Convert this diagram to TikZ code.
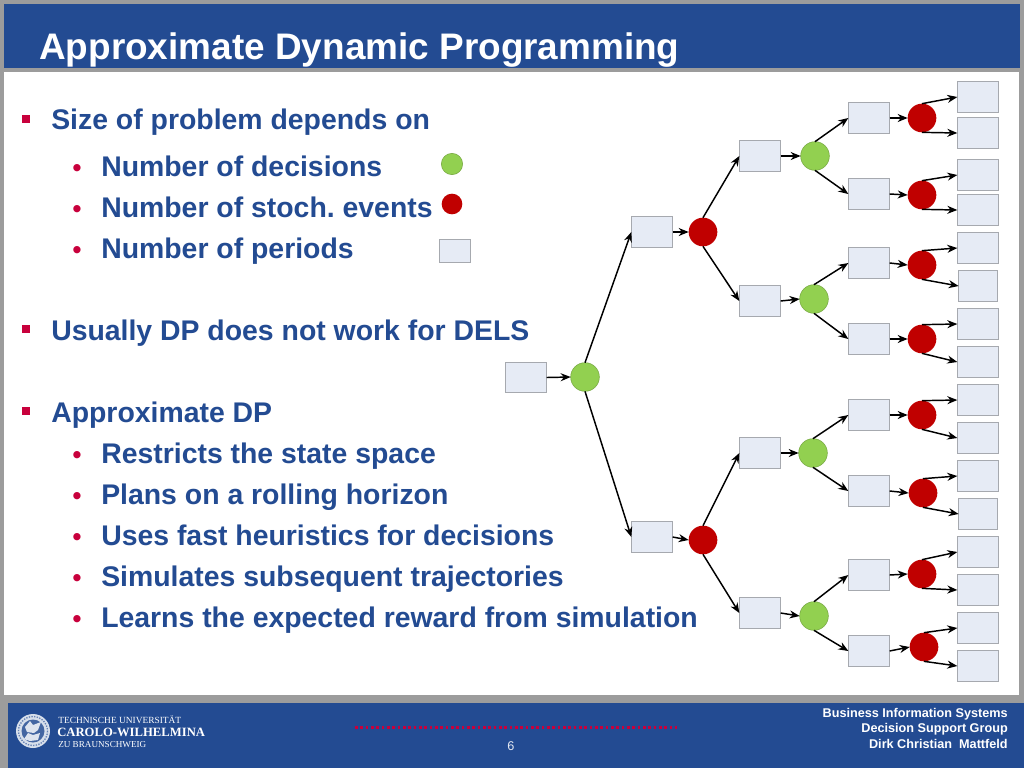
\documentclass[tikz,border=0pt]{standalone}
\usepackage{fontspec}
\setmainfont{Liberation Sans}
\newfontfamily\logofont{Liberation Serif}
\usetikzlibrary{arrows.meta}
\definecolor{uniblue}{HTML}{234B92}
\definecolor{framegray}{HTML}{9C9C9C}
\definecolor{boxfill}{HTML}{E6EBF5}
\definecolor{boxline}{HTML}{A6A9AF}
\definecolor{decgreen}{HTML}{92D050}
\definecolor{evred}{HTML}{C00000}
\definecolor{bulletred}{HTML}{C8003C}
\tikzset{
  statebox/.style={draw=boxline,fill=boxfill,line width=.8pt,minimum width=31pt,minimum height=23pt,inner sep=0pt,outer sep=0pt},
  decision/.style={circle,draw=decgreen!80!black,line width=.4pt,fill=decgreen,minimum size=21.5pt,inner sep=0pt,outer sep=0pt},
  chance/.style={circle,fill=evred,minimum size=21.5pt,inner sep=0pt,outer sep=0pt},
  link/.style={draw=black,line width=1.1pt,-{Stealth[length=7.5pt,width=6pt]}},
  h1/.style={anchor=base west,text=uniblue,font=\bfseries\fontsize{21.3}{25}\selectfont,inner sep=0pt},
  bul/.style={anchor=center,fill=bulletred,minimum size=6pt,inner sep=0pt},
  dot/.style={anchor=base,text=bulletred,font=\bfseries\fontsize{19}{24}\selectfont,inner sep=0pt},
  foot/.style={anchor=base east,text=white,font=\bfseries\fontsize{9.5}{11}\selectfont,inner sep=0pt}
}
\begin{document}
\begin{tikzpicture}[x=.75pt,y=-.75pt]
\useasboundingbox (0,0) rectangle (1024,768);
\fill[framegray] (0,0) rectangle (1024,768);
\fill[uniblue] (4,4) rectangle (1020,68);
\fill[white] (4,72) rectangle (1019,695);
\fill[uniblue] (8,703) rectangle (1024,768);
\node[anchor=base west,text=white,font=\bfseries\fontsize{27.7}{32}\selectfont,inner sep=0pt] (title) at (39,59) {Approximate Dynamic Programming};
% text
\node[bul] (b1) at (26,118.5) {};
\node[h1] (t1) at (51,129.5) {Size of problem depends on};
\node[dot] (d1) at (77,176) {•};
\node[h1] (t2) at (101,176.5) {Number of decisions};
\node[dot] (d2) at (77,217) {•};
\node[h1] (t3) at (101,217.5) {Number of stoch.\ events};
\node[dot] (d3) at (77,258) {•};
\node[h1] (t4) at (101,258.5) {Number of periods};
\node[bul] (b2) at (26,329) {};
\node[h1] (t5) at (51,340.5) {Usually DP does not work for DELS};
\node[bul] (b3) at (26,411) {};
\node[h1] (t6) at (51,422.5) {Approximate DP};
\node[dot] (d4) at (77,463) {•};
\node[h1] (t7) at (101,463.5) {Restricts the state space};
\node[dot] (d5) at (77,504) {•};
\node[h1] (t8) at (101,504.5) {Plans on a rolling horizon};
\node[dot] (d6) at (77,545) {•};
\node[h1] (t9) at (101,545.5) {Uses fast heuristics for decisions};
\node[dot] (d7) at (77,586) {•};
\node[h1] (t10) at (101,586.5) {Simulates subsequent trajectories};
\node[dot] (d8) at (77,627) {•};
\node[h1] (t11) at (101,627.5) {Learns the expected reward from simulation};
% legend
\node[decision,minimum size=16pt] (lg) at (452,164) {};
\node[chance,minimum size=15.5pt] (lr) at (452,204) {};
\node[statebox,minimum width=23pt,minimum height=17.5pt] (lb) at (455,251) {};
% tree
\node[statebox] (s0) at (526,377.5) {};
\node[decision] (g0) at (585,377) {};
\node[statebox] (s1) at (652,232) {};
\node[chance] (r1) at (703,232) {};
\node[statebox] (s2) at (652,537) {};
\node[chance] (r2) at (703,540) {};
\foreach \n/\x/\y/\cx/\cy in {a/760/156/815/156,b/760/301/814/299,c/760/453/813/453,d/760/613/814/616}{
  \node[statebox] (s\n) at (\x,\y) {};
  \node[decision] (g\n) at (\cx,\cy) {};
}
\foreach \n/\y/\cx/\cy in {1/118/922/118,2/194/922/195,3/263/922/265,4/339/922/339,5/415/922/415,6/491/923/493,7/575/922/574,8/651/924/647}{
  \node[statebox] (m\n) at (869,\y) {};
  \node[chance] (q\n) at (\cx,\cy) {};
}
\foreach \n/\y in {1/97,2/133,3/175,4/210,5/248,7/324,8/362,9/400,10/438,11/476,13/552,14/590,15/628,16/666}{
  \node[statebox] (l\n) at (978,\y) {};
}
\node[statebox,minimum width=29pt] (l6) at (978,286) {};
\node[statebox,minimum width=29pt] (l12) at (978,514) {};
% connectors
\draw[link] (s0.east) -- (g0.west);
\draw[link] (g0.north) -- (s1.west);
\draw[link] (g0.south) -- (s2.west);
\draw[link] (s1.east) -- (r1.west);
\draw[link] (s2.east) -- (r2.west);
\draw[link] (r1.north) -- (sa.west);
\draw[link] (r1.south) -- (sb.west);
\draw[link] (r2.north) -- (sc.west);
\draw[link] (r2.south) -- (sd.west);
\foreach \n in {a,b,c,d} \draw[link] (s\n.east) -- (g\n.west);
\draw[link] (ga.north) -- (m1.west);
\draw[link] (ga.south) -- (m2.west);
\draw[link] (gb.north) -- (m3.west);
\draw[link] (gb.south) -- (m4.west);
\draw[link] (gc.north) -- (m5.west);
\draw[link] (gc.south) -- (m6.west);
\draw[link] (gd.north) -- (m7.west);
\draw[link] (gd.south) -- (m8.west);
\foreach \n in {1,...,8} \draw[link] (m\n.east) -- (q\n.west);
\foreach \q/\u/\l in {1/1/2,2/3/4,3/5/6,4/7/8,5/9/10,6/11/12,7/13/14,8/15/16}{
  \draw[link] (q\q.north) -- (l\u.west);
  \draw[link] (q\q.south) -- (l\l.west);
}
% footer: seal
\fill[white!82!uniblue] (33,731) circle (17);
\draw[uniblue!70!white,line width=1pt,dash pattern=on 1pt off 1pt] (33,731) circle (14.5);
\fill[uniblue!85!white] (33,731) circle (11.5);
\fill[white!85!uniblue] (25,727) -- (30,721) -- (33,725) -- (41,722) -- (38,730) -- (34,733) -- (27,732) -- cycle;
\fill[white!85!uniblue] (24,739) -- (28,733) -- (33,735) -- (40,733) -- (38,740) -- (30,741) -- cycle;
\node[anchor=base west,text=white,font=\logofont\fontsize{7.05}{8}\selectfont,inner sep=0pt] (u1) at (58,723.5) {TECHNISCHE UNIVERSITÄT};
\node[anchor=base west,text=white,font=\logofont\bfseries\fontsize{9.5}{12}\selectfont,inner sep=0pt] (u2) at (57,736.5) {CAROLO-WILHELMINA};
\node[anchor=base west,text=white,font=\logofont\fontsize{6.85}{8}\selectfont,inner sep=0pt] (u3) at (58,747) {ZU BRAUNSCHWEIG};
\draw[bulletred,line width=2pt,dash pattern=on 2pt off 2pt] (355,727.5) -- (677,727.5);
\node[anchor=base,text=white!88!uniblue,font=\fontsize{9.5}{11}\selectfont,inner sep=0pt] (pg) at (511,750) {6};
\node[foot] (f1) at (1008,717) {Business Information Systems};
\node[foot] (f2) at (1008,732.5) {Decision Support Group};
\node[foot] (f3) at (1008,748) {Dirk Christian\ \ Mattfeld};
\end{tikzpicture}
\end{document}
